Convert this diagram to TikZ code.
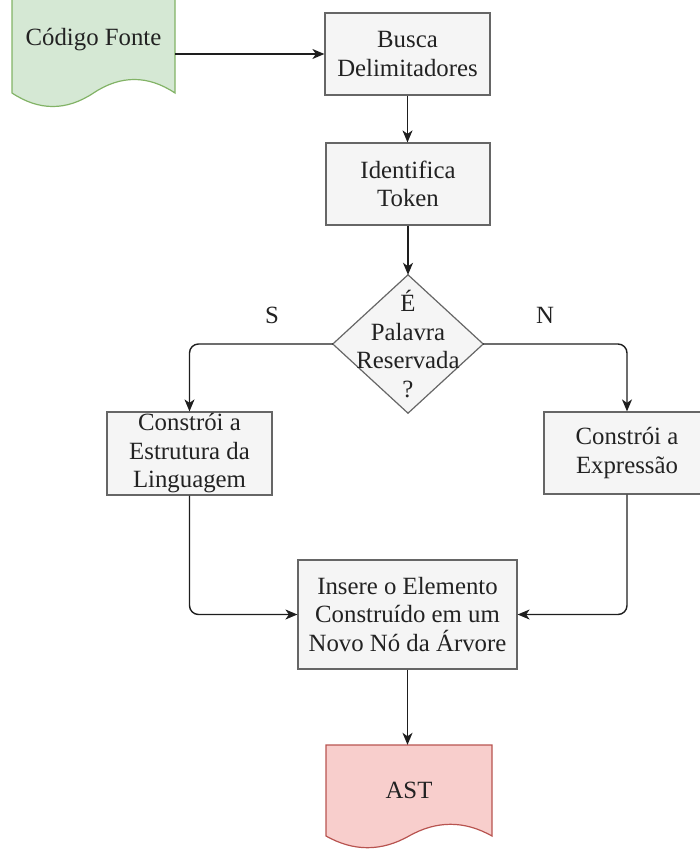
\documentclass[tikz,border=0pt]{standalone}
\usepackage{fontspec}
\setmainfont{Liberation Serif}
\usetikzlibrary{arrows.meta,backgrounds}

\definecolor{txt}{HTML}{222222}
\definecolor{boxfill}{HTML}{F5F5F5}
\definecolor{boxline}{HTML}{666666}
\definecolor{srcfill}{HTML}{D5E8D4}
\definecolor{srcline}{HTML}{82B366}
\definecolor{astfill}{HTML}{F8CECC}
\definecolor{astline}{HTML}{B85450}
\definecolor{edgecol}{HTML}{1E1E1E}

\begin{document}
\begin{tikzpicture}[
  x=1pt, y=-1pt,
  font=\fontsize{24.8}{28.5}\selectfont,
  every node/.style={text=txt, align=center, inner sep=0pt},
  procbox/.style={draw=boxline, fill=boxfill, line width=1.2pt},
  decision/.style={draw=boxline, fill=boxfill, line width=1.2pt},
  srcdoc/.style={draw=srcline, fill=srcfill, line width=1.2pt},
  astdoc/.style={draw=astline, fill=astfill, line width=1.2pt},
  flow/.style={draw=edgecol, line width=1.4pt, rounded corners=9pt,
    -{Stealth[length=12pt,width=10pt,inset=3.5pt]}},
]
\useasboundingbox (0,0) rectangle (700,849);

% process steps
\node[procbox, minimum width=165pt, minimum height=82pt] (busca) at (407.5,54) {Busca\\Delimitadores};
\node[procbox, minimum width=164pt, minimum height=82pt] (ident) at (408,184) {Identifica\\Token};
\node[procbox, minimum width=165pt, minimum height=83pt] (lbox) at (189.5,453.5) {Constrói a\\Estrutura da\\Linguagem};
\node[procbox, minimum width=166pt, minimum height=82pt] (rbox) at (627,453) {Constrói a\\Expressão};
\node[procbox, minimum width=219pt, minimum height=109pt] (ins) at (407.5,614.5) {Insere o Elemento\\Construído em um\\Novo Nó da Árvore};

% decision (text area sized to the diamond)
\node[minimum width=150pt, minimum height=138pt] (dec) at (408,344) {É\\Palavra\\Reservada\\?};

% document-shaped terminals (label areas)
\node[minimum width=163pt, minimum height=80pt] (src) at (93.5,40) {Código Fonte};
\node[minimum width=166pt, minimum height=90pt] (ast) at (409,790) {AST};

% branch labels
\node (lblS) at (272,315) {S};
\node (lblN) at (545,315) {N};

\begin{scope}[on background layer]
  \path[decision] (dec.north) -- (dec.east) -- (dec.south) -- (dec.west) -- cycle;
  \path[srcdoc] (12,-6) -- (175,-6) -- (175,93)
    .. controls (147.83,75) and (120.67,75) .. (93.5,93)
    .. controls (66.33,111) and (39.17,111) .. (12,93) -- cycle;
  \path[astdoc] (326,745) -- (492,745) -- (492,836)
    .. controls (464.33,820.4) and (436.67,820.4) .. (409,836)
    .. controls (381.33,851.6) and (353.67,851.6) .. (326,836) -- cycle;
\end{scope}

% connectors
\draw[flow] (src.east |- busca.west) -- (busca.west);
\draw[flow] (busca.south) -- (busca.south |- ident.north);
\draw[flow] (ident.south) -- (dec.north);
\draw[flow] (dec.west) -| (lbox.north);
\draw[flow] (dec.east) -| (rbox.north);
\draw[flow] (lbox.south) |- (ins.west);
\draw[flow] (rbox.south) |- (ins.east);
\draw[flow] (ins.south) -- (ins.south |- ast.north);
\end{tikzpicture}
\end{document}
